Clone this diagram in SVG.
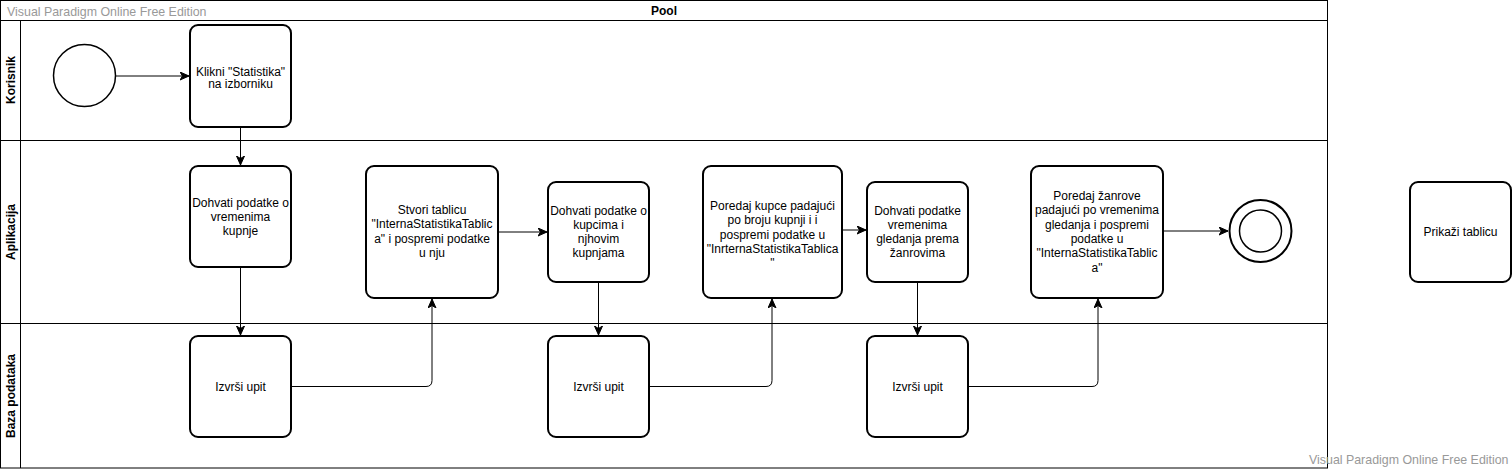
<svg xmlns="http://www.w3.org/2000/svg" width="1512" height="469" viewBox="0 0 1512 469">
<style>
.lane{fill:none;stroke:#000;stroke-width:1}
.task{fill:#fff;stroke:#000;stroke-width:2}
.t{font-family:"Liberation Sans",Arial,sans-serif;font-size:12px;fill:#000;text-anchor:middle}
.b{font-weight:bold}
.wm{font-family:"Liberation Sans",Arial,sans-serif;font-size:12.4px;fill:#999}
.c{fill:none;stroke:#000;stroke-width:1}
</style>
<defs>
<marker id="arr" markerUnits="userSpaceOnUse" markerWidth="10" markerHeight="10" refX="9" refY="4" orient="auto">
<path d="M0,0 L9,4 L0,8 L2.5,4 Z" fill="#000" stroke="#000" stroke-width="1"/>
</marker>
</defs>
<rect width="1512" height="469" fill="#fff"/>
<g id="pool">
<rect class="lane" x="0.5" y="0.5" width="1327" height="467.5"/>
<line class="lane" x1="0.5" y1="20.5" x2="1327.5" y2="20.5"/>
<line class="lane" x1="20.5" y1="20.5" x2="20.5" y2="468"/>
<line class="lane" x1="0.5" y1="140.5" x2="1327.5" y2="140.5"/>
<line class="lane" x1="0.5" y1="323.5" x2="1327.5" y2="323.5"/>
<text class="t b" x="664" y="15">Pool</text>
<text class="t b" transform="translate(14.5,80) rotate(-90)">Korisnik</text>
<text class="t b" transform="translate(14.5,232) rotate(-90)">Aplikacija</text>
<text class="t b" transform="translate(14.5,396) rotate(-90)">Baza podataka</text>
</g>
<g id="connectors">
<path class="c" d="M115.5 76 H189" marker-end="url(#arr)"/>
<path class="c" d="M240.5 127 V165" marker-end="url(#arr)"/>
<path class="c" d="M240.5 267 V335" marker-end="url(#arr)"/>
<path class="c" d="M291 386.5 H426 Q432 386.5 432 380.5 V299" marker-end="url(#arr)"/>
<path class="c" d="M498 232 H547" marker-end="url(#arr)"/>
<path class="c" d="M598.5 282 V335" marker-end="url(#arr)"/>
<path class="c" d="M649 386.5 H766 Q772 386.5 772 380.5 V299" marker-end="url(#arr)"/>
<path class="c" d="M842 230 H866" marker-end="url(#arr)"/>
<path class="c" d="M917.5 282 V335" marker-end="url(#arr)"/>
<path class="c" d="M968 386.5 H1092 Q1098 386.5 1098 380.5 V299" marker-end="url(#arr)"/>
<path class="c" d="M1163 231 H1228" marker-end="url(#arr)"/>
</g>
<g id="start">
<circle cx="84.5" cy="75.5" r="31" fill="#fff" stroke="#000" stroke-width="1.5"/>
</g>
<g id="klikni">
<rect class="task" x="190" y="25" width="101" height="102" rx="8"/>
<text class="t" x="240.5" y="76">Klikni "Statistika"</text>
<text class="t" x="240.5" y="87.5">na izborniku</text>
</g>
<g id="dohvati1">
<rect class="task" x="190" y="166" width="101" height="101" rx="8"/>
<text class="t" x="240.5" y="206.5">Dohvati podatke o</text>
<text class="t" x="240.5" y="220.8">vremenima</text>
<text class="t" x="240.5" y="235.1">kupnje</text>
</g>
<g id="izvrsi1">
<rect class="task" x="190" y="336" width="101" height="101" rx="8"/>
<text class="t" x="240.5" y="390.5">Izvrši upit</text>
</g>
<g id="stvori">
<rect class="task" x="366" y="166" width="132" height="132" rx="8"/>
<text class="t" x="432" y="214">Stvori tablicu</text>
<text class="t" x="432" y="228.3">"InternaStatistikaTablic</text>
<text class="t" x="432" y="242.6">a" i pospremi podatke</text>
<text class="t" x="432" y="256.9">u nju</text>
</g>
<g id="dohvati2">
<rect class="task" x="548" y="182" width="101" height="100" rx="8"/>
<text class="t" x="598.5" y="214.5">Dohvati podatke o</text>
<text class="t" x="598.5" y="228.8">kupcima i</text>
<text class="t" x="598.5" y="243.1">njhovim</text>
<text class="t" x="598.5" y="257.4">kupnjama</text>
</g>
<g id="izvrsi2">
<rect class="task" x="548" y="336" width="101" height="101" rx="8"/>
<text class="t" x="598.5" y="390.5">Izvrši upit</text>
</g>
<g id="poredaj1">
<rect class="task" x="703" y="166" width="139" height="132" rx="8"/>
<text class="t" x="772.5" y="210">Poredaj kupce padajući</text>
<text class="t" x="772.5" y="224.3">po broju kupnji i i</text>
<text class="t" x="772.5" y="238.6">pospremi podatke u</text>
<text class="t" x="772.5" y="252.9">"InrternaStatistikaTablica</text>
<text class="t" x="772.5" y="267.2">"</text>
</g>
<g id="dohvati3">
<rect class="task" x="867" y="182" width="101" height="100" rx="8"/>
<text class="t" x="917.5" y="214.5">Dohvati podatke</text>
<text class="t" x="917.5" y="228.8">vremenima</text>
<text class="t" x="917.5" y="243.1">gledanja prema</text>
<text class="t" x="917.5" y="257.4">žanrovima</text>
</g>
<g id="izvrsi3">
<rect class="task" x="867" y="336" width="101" height="101" rx="8"/>
<text class="t" x="917.5" y="390.5">Izvrši upit</text>
</g>
<g id="poredaj2">
<rect class="task" x="1031" y="166" width="132" height="132" rx="8"/>
<text class="t" x="1097" y="200">Poredaj žanrove</text>
<text class="t" x="1097" y="214.3">padajući po vremenima</text>
<text class="t" x="1097" y="228.6">gledanja i pospremi</text>
<text class="t" x="1097" y="242.9">podatke u</text>
<text class="t" x="1097" y="257.2">"InternaStatistikaTablic</text>
<text class="t" x="1097" y="271.5">a"</text>
</g>
<g id="end">
<circle cx="1260.5" cy="231" r="31" fill="#fff" stroke="#000" stroke-width="2"/>
<circle cx="1260.5" cy="231" r="21" fill="none" stroke="#000" stroke-width="1.5"/>
</g>
<g id="prikazi">
<rect class="task" x="1410" y="182" width="101" height="100" rx="8"/>
<text class="t" x="1460.5" y="236">Prikaži tablicu</text>
</g>
<text class="wm" x="7" y="16">Visual Paradigm Online Free Edition</text>
<text class="wm" x="1309" y="464">Visual Paradigm Online Free Edition</text>
</svg>
